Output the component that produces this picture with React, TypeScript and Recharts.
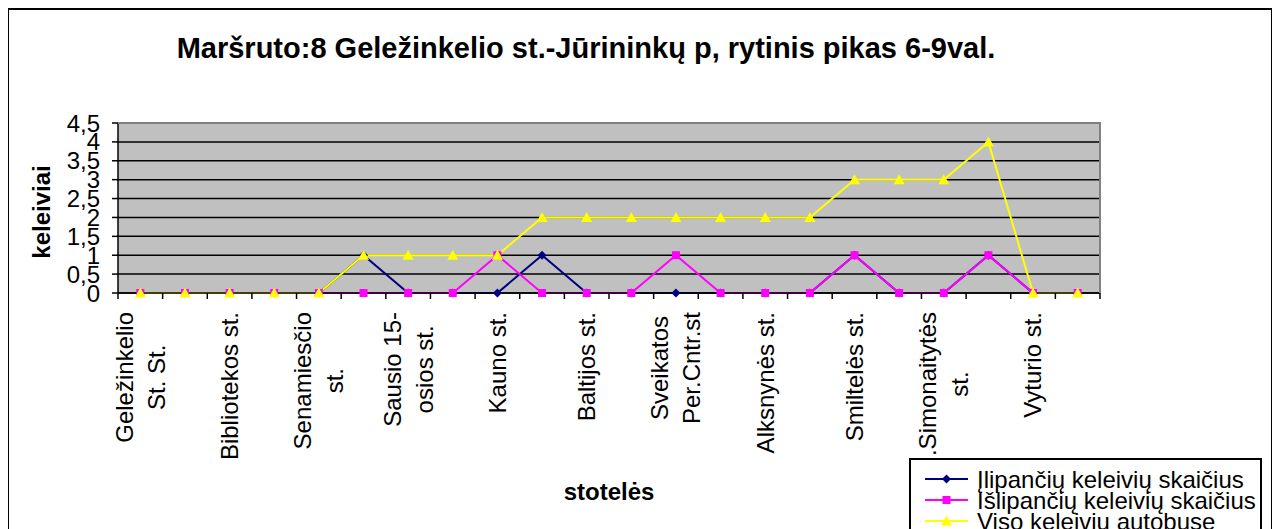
import React from 'react';
import { CartesianGrid, Line, LineChart, XAxis, YAxis } from 'recharts';

// stops (only every second one is labelled in the original)
const stops = [
  'Geležinkelio\nSt. St.', '', 'Bibliotekos st.', '', 'Senamiesčio\nst.', '',
  'Sausio 15-\nosios st.', '', 'Kauno st.', '', 'Baltijos st.', '',
  'Sveikatos\nPer.Cntr.st', '', 'Alksnynės st.', '', 'Smiltelės st.', '',
  '.Simonaitytės\nst.', '', 'Vyturio st.', '',
];
const boarding = [0, 0, 0, 0, 0, 1, 0, 0, 0, 1, 0, 0, 0, 0, 0, 0, 1, 0, 0, 1, 0, 0];
const alighting = [0, 0, 0, 0, 0, 0, 0, 0, 1, 0, 0, 0, 1, 0, 0, 0, 1, 0, 0, 1, 0, 0];
const onBoard = [0, 0, 0, 0, 0, 1, 1, 1, 1, 2, 2, 2, 2, 2, 2, 2, 3, 3, 3, 4, 0, 0];
const yTicks = [0, 0.5, 1, 1.5, 2, 2.5, 3, 3.5, 4, 4.5];

const seriesNames = ['Įlipančių keleivių skaičius', 'Išlipančių keleivių skaičius', 'Viso keleivių autobuse'];

const data = stops.map((name, i) => ({
  name,
  in: boarding[i],
  out: alighting[i],
  total: onBoard[i],
}));

const FONT = "'Liberation Sans', Arial, sans-serif";
const MARGIN = { top: 113, right: 166, bottom: 97, left: 49 };
const CHART_W = 1257;
const Y_AXIS_W = 60;
const PLOT_LEFT = MARGIN.left + Y_AXIS_W;
const PLOT_RIGHT = CHART_W - MARGIN.right;
const PLOT_W = PLOT_RIGHT - PLOT_LEFT;
const BAND = PLOT_W / stops.length;
const NAVY = '#000080';
const MAGENTA = '#FF00FF';
const YELLOW = '#FFFF00';

let ctx: CanvasRenderingContext2D | null = null;
function textWidth(s: string) {
  if (!ctx) ctx = document.createElement('canvas').getContext('2d');
  if (!ctx) return s.length * 12;
  ctx.font = `24px ${FONT}`;
  return ctx.measureText(s).width;
}

function StopTick(props: any) {
  const { x, y, payload, index } = props;
  const lines = String(payload.value || '').split('\n').filter(Boolean);
  const maxW = Math.max(0, ...lines.map(textWidth));
  const pitch = 32;
  return (
    <g>
      <line x1={x - BAND / 2} x2={x - BAND / 2} y1={y - 6} y2={y} stroke="#000" strokeWidth={1.5} />
      {index === stops.length - 1 && (
        <line x1={x + BAND / 2} x2={x + BAND / 2} y1={y - 6} y2={y} stroke="#000" strokeWidth={1.5} />
      )}
      <g transform={`translate(${x},${y}) rotate(-90)`}>
        {lines.map((l, i) => (
          <text
            key={i}
            x={-(13 + maxW / 2)}
            y={(i - (lines.length - 1) / 2) * pitch}
            dy="0.35em"
            textAnchor="middle"
            fontSize={24}
            fontFamily={FONT}
            fill="#000"
          >
            {l}
          </text>
        ))}
      </g>
    </g>
  );
}

const diamond = (p: any) => (
  <path
    key={`d${p.index}`}
    d={`M${p.cx},${p.cy - 4.5}L${p.cx + 4.5},${p.cy}L${p.cx},${p.cy + 4.5}L${p.cx - 4.5},${p.cy}Z`}
    fill={NAVY}
  />
);
const square = (p: any) => (
  <rect key={`s${p.index}`} x={p.cx - 4} y={p.cy - 4} width={8} height={8} fill={MAGENTA} />
);
const triangle = (p: any) => (
  <path
    key={`t${p.index}`}
    d={`M${p.cx},${p.cy - 5.5}L${p.cx + 5.5},${p.cy + 4.5}L${p.cx - 5.5},${p.cy + 4.5}Z`}
    fill={YELLOW}
  />
);

function LegendBox() {
  const colors = [NAVY, MAGENTA, YELLOW];
  const marks = [diamond, square, triangle];
  return (
    <div
      style={{
        position: 'absolute',
        left: 900,
        top: 448,
        width: 353,
        height: 90,
        border: '2px solid #000',
        boxSizing: 'border-box',
        background: '#fff',
      }}
    >
      <svg width={353} height={90} style={{ position: 'absolute', left: -2, top: -2 }}>
        {seriesNames.map((n, i) => {
          const cy = 21 + i * 21;
          return (
            <g key={n}>
              <line x1={16} x2={59} y1={cy} y2={cy} stroke={colors[i]} strokeWidth={2} />
              {marks[i]({ cx: 37.5, cy, index: i })}
              <text x={68} y={cy} dy="0.36em" fontSize={24} fontFamily={FONT} fill="#000">
                {n}
              </text>
            </g>
          );
        })}
      </svg>
    </div>
  );
}

export default function App() {
  return (
    <div
      style={{
        position: 'relative',
        marginLeft: -1,
        width: 1266,
        height: 521,
        borderTop: '2px solid #000',
        borderLeft: '2px solid #000',
        borderRight: '2px solid #000',
        boxSizing: 'border-box',
        overflow: 'hidden',
        background: '#fff',
        fontFamily: FONT,
      }}
    >
      <LineChart width={CHART_W} height={560} data={data} margin={MARGIN}>
        <CartesianGrid vertical={false} fill="#C0C0C0" stroke="#000" strokeWidth={1.5} strokeOpacity={1} />
        <XAxis
          dataKey="name"
          interval={0}
          padding={{ left: BAND / 2, right: BAND / 2 }}
          tickLine={false}
          tickSize={6}
          tickMargin={0}
          height={180}
          axisLine={{ stroke: '#000', strokeWidth: 1.5 }}
          tick={<StopTick />}
        />
        <YAxis
          width={Y_AXIS_W}
          domain={[0, 4.5]}
          ticks={yTicks}
          interval={0}
          tickSize={6}
          tickMargin={12}
          axisLine={{ stroke: '#000', strokeWidth: 1.5 }}
          tickLine={{ stroke: '#000', strokeWidth: 1.5 }}
          tick={{ fill: '#000', fontSize: 24, fontFamily: FONT }}
          tickFormatter={(v: number) => String(v).replace('.', ',')}
        />
        <Line dataKey="in" name={seriesNames[0]} stroke={NAVY} strokeWidth={2} dot={diamond} isAnimationActive={false} />
        <Line dataKey="out" name={seriesNames[1]} stroke={MAGENTA} strokeWidth={2} dot={square} isAnimationActive={false} />
        <Line dataKey="total" name={seriesNames[2]} stroke={YELLOW} strokeWidth={2} dot={triangle} isAnimationActive={false} />
      </LineChart>
      <svg width={1262} height={521} style={{ position: 'absolute', left: 0, top: 0, pointerEvents: 'none' }}>
        {/* grey frame on the top and right of the plot area */}
        <polyline
          points={`${PLOT_LEFT},${MARGIN.top} ${PLOT_RIGHT},${MARGIN.top} ${PLOT_RIGHT},${MARGIN.top + 170}`}
          fill="none"
          stroke="#808080"
          strokeWidth={2}
        />
        <text x={577} y={48} textAnchor="middle" fontSize={29} fontWeight="bold" fontFamily={FONT}>
          Maršruto:8 Geležinkelio st.-Jūrininkų p, rytinis pikas 6-9val.
        </text>
        <text x={41} y={202} transform="rotate(-90 41 202)" textAnchor="middle" fontSize={24} fontWeight="bold" fontFamily={FONT}>
          keleiviai
        </text>
        <text x={600} y={490} textAnchor="middle" fontSize={24} fontWeight="bold" fontFamily={FONT}>
          stotelės
        </text>
      </svg>
      <LegendBox />
    </div>
  );
}
